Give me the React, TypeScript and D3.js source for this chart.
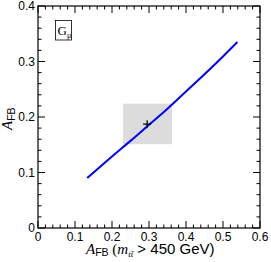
import { useEffect, useRef } from 'react'
import * as d3 from 'd3'

const W = 271
const H = 262
const M = { left: 38, right: 11, top: 6, bottom: 34 }

// A_FB (m > 450 GeV) vs A_FB for the G_mu model
const curveX = [0.133, 0.2, 0.25, 0.3, 0.35, 0.4, 0.45, 0.5, 0.539]
const curveY = [0.09, 0.129, 0.157, 0.186, 0.215, 0.246, 0.277, 0.309, 0.335]

// measurement: central value and 1-sigma box
const dataPoint = [0.295, 0.187]
const boxX = [0.23, 0.362]
const boxY = [0.151, 0.224]

const xTicks = [0, 0.1, 0.2, 0.3, 0.4, 0.5, 0.6]
const yTicks = [0, 0.1, 0.2, 0.3, 0.4]

export default function App() {
  const ref = useRef<SVGSVGElement>(null)

  useEffect(() => {
    const svg = d3.select(ref.current)
    svg.selectAll('*').remove()

    const x = d3.scaleLinear().domain([0, 0.6]).range([M.left, W - M.right])
    const y = d3.scaleLinear().domain([0, 0.4]).range([H - M.bottom, M.top])
    const x0 = x(0), x1 = x(0.6), y0 = y(0), y1 = y(0.4)

    // error box
    svg.append('rect')
      .attr('x', x(boxX[0])).attr('y', y(boxY[1]))
      .attr('width', x(boxX[1]) - x(boxX[0]))
      .attr('height', y(boxY[0]) - y(boxY[1]))
      .attr('fill', '#dcdcdc')

    // curve
    const line = d3.line<number>()
      .x((_, i) => x(curveX[i]))
      .y((d) => y(d))
      .curve(d3.curveMonotoneX)
    svg.append('path')
      .datum(curveY)
      .attr('d', line)
      .attr('fill', 'none')
      .attr('stroke', '#0000ff')
      .attr('stroke-width', 2)

    // data cross
    const cx = x(dataPoint[0]), cy = y(dataPoint[1])
    svg.append('path')
      .attr('d', `M${cx - 4},${cy}H${cx + 4}M${cx},${cy - 4}V${cy + 4}`)
      .attr('stroke', '#000').attr('stroke-width', 1.2)

    // frame
    svg.append('rect')
      .attr('x', x0).attr('y', y1)
      .attr('width', x1 - x0).attr('height', y0 - y1)
      .attr('fill', 'none').attr('stroke', '#000').attr('stroke-width', 1.2)

    // ticks, inward on all four sides
    const g = svg.append('g').attr('stroke', '#000').attr('stroke-width', 1)
    d3.range(0, 31).forEach((i) => {
      const v = i * 0.02
      const len = i % 5 === 0 ? 7 : 3.5
      const px = x(v)
      g.append('line').attr('x1', px).attr('x2', px).attr('y1', y0).attr('y2', y0 - len)
      g.append('line').attr('x1', px).attr('x2', px).attr('y1', y1).attr('y2', y1 + len)
    })
    d3.range(0, 21).forEach((i) => {
      const v = i * 0.02
      const len = i % 5 === 0 ? 7 : 3.5
      const py = y(v)
      g.append('line').attr('y1', py).attr('y2', py).attr('x1', x0).attr('x2', x0 + len)
      g.append('line').attr('y1', py).attr('y2', py).attr('x1', x1).attr('x2', x1 - len)
    })

    const font = 'Liberation Sans, Arial, sans-serif'
    const serif = 'Liberation Serif, Times New Roman, serif'
    xTicks.forEach((t) => {
      svg.append('text')
        .attr('x', x(t)).attr('y', y0 + 12.5)
        .attr('text-anchor', 'middle')
        .attr('font-family', font).attr('font-size', 12)
        .text(d3.format('~g')(t))
    })
    yTicks.forEach((t) => {
      svg.append('text')
        .attr('x', x0 - 3).attr('y', y(t) + 4)
        .attr('text-anchor', 'end')
        .attr('font-family', font).attr('font-size', 12)
        .text(d3.format('~g')(t))
    })

    // legend box
    svg.append('rect')
      .attr('x', 55.5).attr('y', 20.5).attr('width', 16).attr('height', 19.5)
      .attr('fill', 'none').attr('stroke', '#000').attr('stroke-width', 0.8)
    const leg = svg.append('text')
      .attr('x', 57.5).attr('y', 35)
      .attr('font-family', serif).attr('font-size', 13)
    leg.append('tspan').text('G')
    leg.append('tspan').attr('font-size', 8).attr('dy', 3).text('μ')

    // x axis title
    const xt = svg.append('text')
      .attr('x', 86).attr('y', 253.5)
      .attr('font-family', font).attr('font-size', 15)
    xt.append('tspan').attr('font-family', serif).attr('font-style', 'italic').attr('font-size', 15).text('A')
    xt.append('tspan').attr('font-size', 10.5).attr('dy', 2.5).text('FB')
    xt.append('tspan').attr('dy', -2.5).attr('font-family', serif).attr('font-size', 15).text(' (')
    xt.append('tspan').attr('font-family', serif).attr('font-style', 'italic').attr('font-size', 15).text('m')
    xt.append('tspan').attr('font-family', serif).attr('font-style', 'italic').attr('font-size', 9).attr('dy', 3).text('tt̄')
    xt.append('tspan').attr('dy', -3).text(' > 450 GeV)')

    // y axis title (rotated, reading bottom to top)
    const yt = svg.append('g')
      .attr('transform', 'translate(12, 130) rotate(-90)')
      .append('text')
      .attr('font-family', font).attr('font-size', 14)
    yt.append('tspan').attr('font-family', serif).attr('font-style', 'italic').attr('font-size', 15).text('A')
    yt.append('tspan').attr('font-size', 10.5).attr('dy', 2.5).text('FB')
  }, [])

  return (
    <svg
      ref={ref}
      width={W}
      height={H}
      style={{ position: 'absolute', left: 0, top: 0, background: '#fff' }}
    />
  )
}
